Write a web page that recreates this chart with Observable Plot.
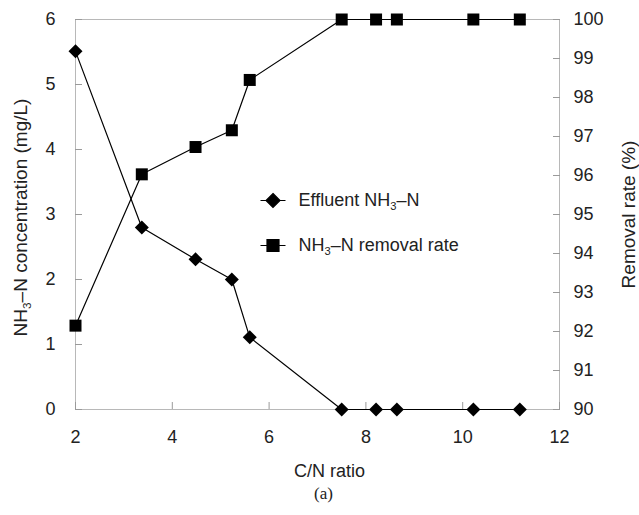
<!DOCTYPE html>
<html><head><meta charset="utf-8">
<script src="https://cdn.jsdelivr.net/npm/d3@7"></script>
<script src="https://cdn.jsdelivr.net/npm/@observablehq/plot@0.6"></script>
<style>
html,body{margin:0;padding:0;background:#fff;}
#chart{width:639px;height:515px;overflow:hidden;}
</style></head><body><div id="chart"></div>
<script>
// ---- data ----
const cnRatio      = [2.0, 3.37, 4.48, 5.23, 5.6, 7.5, 8.21, 8.64, 10.22, 11.18];
const effluentNH3N = [5.51, 2.80, 2.31, 2.00, 1.11, 0, 0, 0, 0, 0];
const removalRate  = [92.15, 96.03, 96.73, 97.16, 98.45, 100, 100, 100, 100, 100];
const xTicks     = [2, 4, 6, 8, 10, 12];
const leftTicks  = [0, 1, 2, 3, 4, 5, 6];
const rightTicks = [90, 91, 92, 93, 94, 95, 96, 97, 98, 99, 100];
const seriesNames = ["Effluent NH3\u2013N", "NH3\u2013N removal rate"];
const xLabel = "C/N ratio";
const yLabelLeft = "NH3\u2013N concentration (mg/L)";
const yLabelRight = "Removal rate (%)";
const caption = "(a)";

// right axis (90..100 %) mapped onto left scale (0..6)
const toLeft = r => (r - 90) / 10 * 6;
const rows = cnRatio.map((x, i) => ({x, eff: effluentNH3N[i], rem: toLeft(removalRate[i])}));

const rOf = size => Math.sqrt(size / Math.PI);
const diamondSym = {draw(c, s) { const r = rOf(s); c.moveTo(0, -r); c.lineTo(r, 0); c.lineTo(0, r); c.lineTo(-r, 0); c.closePath(); }};
const squareSym  = {draw(c, s) { const r = rOf(s); c.rect(-r, -r, 2 * r, 2 * r); }};
const legDiamond = {draw(c, s) { c.moveTo(-12.5, 0); c.lineTo(12.5, 0); diamondSym.draw(c, s); }};
const legSquare  = {draw(c, s) { c.moveTo(-12.5, 0); c.lineTo(12.5, 0); squareSym.draw(c, s); }};

const tickColor = "#9a9a9a";
const textColor = "#222";
const FS = 18;

const svg = Plot.plot({
  width: 639, height: 515,
  marginLeft: 75, marginRight: 80, marginTop: 19, marginBottom: 106,
  style: {fontFamily: "'Liberation Sans', Arial, sans-serif", fontSize: FS + "px", background: "#fff", color: textColor},
  x: {domain: [2, 12], axis: null},
  y: {domain: [0, 6], axis: null},
  marks: [
    Plot.frame({stroke: "#b8b8b8"}),
    // inward ticks
    Plot.axisX(xTicks, {tickSize: 7, dy: -7, tickFormat: () => "", stroke: tickColor, label: null}),
    Plot.axisY(leftTicks, {anchor: "left", tickSize: 7, dx: 7, tickFormat: () => "", stroke: tickColor, label: null}),
    Plot.axisY(rightTicks.map(toLeft), {anchor: "right", tickSize: 7, dx: -7, tickFormat: () => "", stroke: tickColor, label: null}),
    // tick labels
    Plot.axisX(xTicks, {tickSize: 0, tickPadding: 21, fontSize: FS, fill: textColor, label: null, tickFormat: d => String(d)}),
    Plot.axisY(leftTicks, {anchor: "left", tickSize: 0, tickPadding: 20, fontSize: FS, fill: textColor, label: null, tickFormat: d => String(d)}),
    Plot.axisY(rightTicks.map(toLeft), {anchor: "right", tickSize: 0, tickPadding: 14, fontSize: FS, fill: textColor, label: null,
      tickFormat: d => String(Math.round(90 + d / 0.6))}),
    // series
    Plot.line(rows, {x: "x", y: "eff", stroke: "#000", strokeWidth: 1.2}),
    Plot.line(rows, {x: "x", y: "rem", stroke: "#000", strokeWidth: 1.2}),
    Plot.dot(rows, {x: "x", y: "eff", symbol: diamondSym, r: 7, fill: "#000"}),
    Plot.dot(rows, {x: "x", y: "rem", symbol: squareSym, r: 6, fill: "#000"}),
    // legend
    Plot.dot([0], {frameAnchor: "top-left", dx: 197.5, dy: 181, symbol: legDiamond, r: 7, fill: "#000", stroke: "#000", strokeWidth: 1.2}),
    Plot.dot([0], {frameAnchor: "top-left", dx: 197.5, dy: 226, symbol: legSquare, r: 6, fill: "#000", stroke: "#000", strokeWidth: 1.2}),
    Plot.text([seriesNames[0]], {text: d => d, frameAnchor: "top-left", dx: 223, dy: 181, textAnchor: "start", lineAnchor: "middle", fontSize: FS, fill: textColor}),
    Plot.text([seriesNames[1]], {text: d => d, frameAnchor: "top-left", dx: 223, dy: 226, textAnchor: "start", lineAnchor: "middle", fontSize: FS, fill: textColor}),
    // axis titles
    Plot.text([xLabel], {text: d => d, frameAnchor: "bottom", dx: 12, dy: 62, textAnchor: "middle", lineAnchor: "middle", fontSize: 18, fill: textColor}),
    Plot.text([yLabelLeft], {text: d => d, frameAnchor: "left", dx: -55, dy: 3, rotate: -90, textAnchor: "middle", lineAnchor: "middle", fontSize: 19, fill: textColor}),
    Plot.text([yLabelRight], {text: d => d, frameAnchor: "right", dx: 69, dy: 0, rotate: -90, textAnchor: "middle", lineAnchor: "middle", fontSize: 19, fill: textColor}),
    Plot.text([caption], {text: d => d, frameAnchor: "bottom", dx: 6, dy: 84, textAnchor: "middle", lineAnchor: "middle", fontSize: 17, fontFamily: "'Liberation Serif', 'Times New Roman', serif", fill: textColor})
  ]
});

// subscript the "3" in NH3
const NS = "http://www.w3.org/2000/svg";
svg.querySelectorAll("text").forEach(t => {
  const s = t.textContent;
  const i = s.indexOf("NH3");
  if (i < 0 || t.querySelector("tspan")) return;
  t.textContent = "";
  const add = (str, attrs = {}) => {
    const ts = document.createElementNS(NS, "tspan");
    ts.textContent = str;
    for (const k in attrs) ts.setAttribute(k, attrs[k]);
    t.appendChild(ts);
  };
  add(s.slice(0, i + 2));
  add("3", {"font-size": "62%", dy: "4"});
  add(s.slice(i + 3), {dy: "-4"});
});

document.getElementById("chart").appendChild(svg);
</script>
</body></html>
